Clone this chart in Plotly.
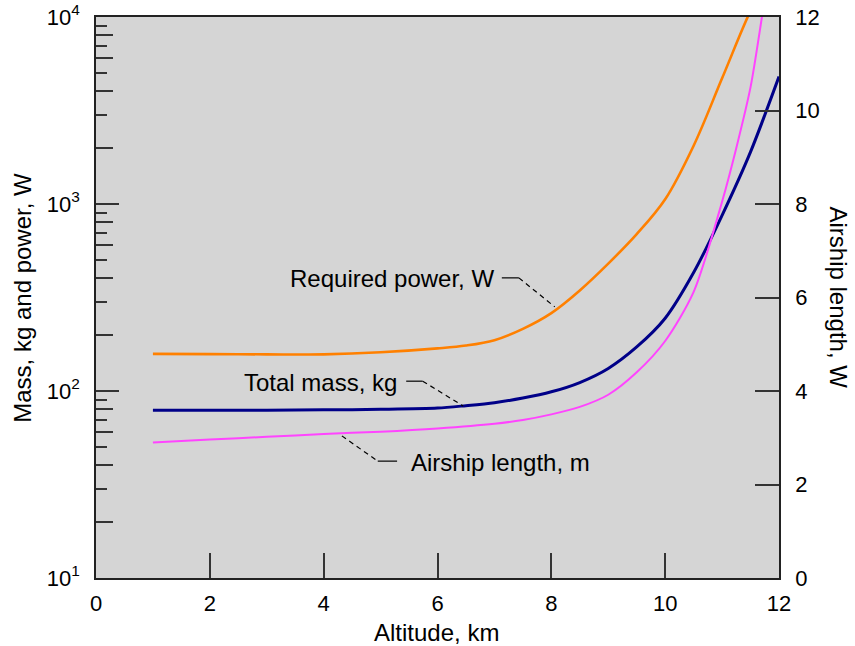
import plotly.graph_objects as go

# Data
alt_power = [1, 2, 3, 4, 5, 6, 6.5, 7, 7.5, 8, 8.5, 9, 9.5, 10, 10.5, 11, 11.5, 11.8]
power_w = [158, 157.5, 157, 157, 161, 169, 175, 187, 215, 261, 345, 480, 690, 1060, 2050, 4700, 10800, 16000]

alt_mass = [1, 2, 3, 4, 5, 6, 6.5, 7, 7.5, 8, 8.5, 9, 9.5, 10, 10.5, 11, 11.5, 12]
mass_kg = [79, 79, 79, 79.3, 79.8, 81, 83.5, 86.6, 91.7, 99, 111, 132, 172, 245, 430, 870, 1900, 4800]

alt_len = [1, 2, 3, 4, 5, 6, 7, 7.5, 8, 8.5, 9, 9.5, 10, 10.5, 11, 11.25, 11.5, 11.7, 11.85]
length_m = [2.90, 2.96, 3.02, 3.08, 3.13, 3.20, 3.30, 3.38, 3.50, 3.66, 3.92, 4.40, 5.07, 6.12, 8.05, 9.2, 10.5, 12.0, 13.2]

x_ticks = [0, 2, 4, 6, 8, 10, 12]
log_ticks = [10, 100, 1000, 10000]
log_tick_text = ["10<sup>1</sup>", "10<sup>2</sup>", "10<sup>3</sup>", "10<sup>4</sup>"]
minor_long = [m * d for d in [10, 100, 1000] for m in [2, 4, 6, 8]]
minor_short = [m * d for d in [10, 100, 1000] for m in [3, 5, 7, 9]]
right_ticks = [0, 2, 4, 6, 8, 10, 12]

FONT = "Liberation Sans, Arial, sans-serif"
TICKCOL = "#333333"
TICKFONT = dict(family=FONT, size=22, color="black")

fig = go.Figure()
fig.add_trace(go.Scatter(x=alt_power, y=power_w, mode="lines", yaxis="y",
                         line=dict(color="#ff8000", width=2.6, shape="spline", smoothing=1.0),
                         showlegend=False, hoverinfo="skip"))
fig.add_trace(go.Scatter(x=alt_mass, y=mass_kg, mode="lines", yaxis="y",
                         line=dict(color="#000088", width=3, shape="spline", smoothing=0.8),
                         showlegend=False, hoverinfo="skip"))
fig.add_trace(go.Scatter(x=alt_len, y=length_m, mode="lines", yaxis="y2",
                         line=dict(color="#ff44ff", width=2, shape="spline", smoothing=0.8),
                         showlegend=False, hoverinfo="skip"))

fig.update_layout(
    width=855, height=646,
    margin=dict(l=96, r=76, t=17, b=68, autoexpand=False),
    paper_bgcolor="white", plot_bgcolor="#d5d5d5",
    font=dict(family=FONT, size=22, color="black"),
    xaxis=dict(range=[0, 12], tickvals=x_ticks, ticks="inside", ticklen=25, tickwidth=1.5,
               tickcolor=TICKCOL, showgrid=False, zeroline=False, showline=True, mirror=True,
               linecolor="#222222", linewidth=1.5, ticklabelstandoff=5, automargin=False,
               tickfont=TICKFONT),
    yaxis=dict(type="log", range=[1, 4], tickvals=log_ticks, ticktext=log_tick_text,
               ticks="inside", ticklen=23, tickwidth=1.5, tickcolor=TICKCOL, showgrid=False,
               zeroline=False, showline=True, linecolor="#222222", linewidth=1.5,
               ticklabelstandoff=10, automargin=False, tickfont=TICKFONT),
    yaxis2=dict(range=[0, 12], tickvals=right_ticks, overlaying="y", side="right",
                ticks="inside", ticklen=24, tickwidth=1.5, tickcolor=TICKCOL, showgrid=False,
                zeroline=False, showline=True, linecolor="#222222", linewidth=1.5,
                ticklabelstandoff=10, automargin=False, tickfont=TICKFONT),
    yaxis3=dict(type="log", range=[1, 4], tickvals=minor_long, overlaying="y", side="left",
                ticks="inside", ticklen=17, tickwidth=1.5, tickcolor=TICKCOL, showgrid=False,
                zeroline=False, showline=False, showticklabels=False, automargin=False),
    yaxis4=dict(type="log", range=[1, 4], tickvals=minor_short, overlaying="y", side="left",
                ticks="inside", ticklen=11, tickwidth=1.5, tickcolor=TICKCOL, showgrid=False,
                zeroline=False, showline=False, showticklabels=False, automargin=False),
)

# invisible traces to activate overlay axes
fig.add_trace(go.Scatter(x=[None], y=[None], yaxis="y3", showlegend=False))
fig.add_trace(go.Scatter(x=[None], y=[None], yaxis="y4", showlegend=False))

TF = dict(family=FONT, size=24, color="black")
# axis titles
fig.add_annotation(text="Altitude, km", xref="paper", yref="paper", x=0.499, y=-0.0963,
                   showarrow=False, font=TF, xanchor="center", yanchor="middle")
fig.add_annotation(text="Mass, kg and power, W", xref="paper", yref="paper", x=-0.108, y=0.5,
                   showarrow=False, font=TF, textangle=-90, xanchor="center", yanchor="middle")
fig.add_annotation(text="Airship length, W", xref="paper", yref="paper", x=1.0864, y=0.5,
                   showarrow=False, font=TF, textangle=90, xanchor="center", yanchor="middle")

# curve labels (placed on the linear right-axis scale)
fig.add_annotation(text="Required power, W", xref="x", yref="y2", x=7.03, y=6.40,
                   showarrow=False, font=TF, xanchor="right", yanchor="middle")
fig.add_annotation(text="Total mass, kg", xref="x", yref="y2", x=5.33, y=4.19,
                   showarrow=False, font=TF, xanchor="right", yanchor="middle")
fig.add_annotation(text="Airship length, m", xref="x", yref="y2", x=5.50, y=2.48,
                   showarrow=False, font=TF, xanchor="left", yanchor="middle")

solid = dict(color="black", width=1.2)
dashed = dict(color="black", width=1.2, dash="5px,4px")
leaders = [
    (7.13, 6.42, 7.43, 6.42, solid),
    (7.43, 6.42, 8.06, 5.80, dashed),
    (5.45, 4.21, 5.74, 4.21, solid),
    (5.74, 4.21, 6.45, 3.68, dashed),
    (4.32, 3.04, 4.95, 2.50, dashed),
    (4.95, 2.50, 5.29, 2.50, solid),
]
for x0, y0, x1, y1, ln in leaders:
    fig.add_shape(type="line", xref="x", yref="y2", x0=x0, y0=y0, x1=x1, y1=y1, line=ln)

fig.write_html("out.html", config={"displayModeBar": False},
               post_script="document.body.style.margin='0px';document.body.style.padding='0px';")
